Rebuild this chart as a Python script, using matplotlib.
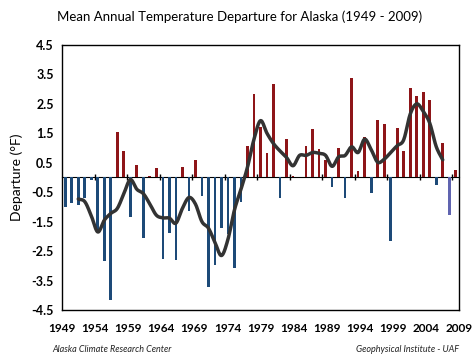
import numpy as np
import matplotlib
matplotlib.use("Agg")
import matplotlib.pyplot as plt

plt.rcParams['font.family'] = ['Lato', 'DejaVu Sans']

# ---- data ----
years = list(range(1949, 2010))
departures = [
    -1.00, -0.85, -0.92, -0.69, -0.07, -1.80, -2.85, -4.17, 1.55, 0.91,
    -1.33, 0.43, -2.07, 0.05, 0.33, -2.77, -1.88, -2.79, 0.36, -1.15,
    0.60, -0.63, -3.73, -2.98, -1.72, -1.91, -3.06, -0.82, 1.08, 2.84,
    1.71, 0.84, 3.19, -0.68, 1.32, 0.04, 0.02, 1.08, 1.66, 0.97,
    0.61, -0.31, 1.01, -0.71, 3.39, 0.23, 1.37, -0.54, 1.96, 1.83,
    -2.17, 1.67, 0.90, 3.05, 2.78, 2.91, 2.64, -0.24, 1.18, -1.26,
    0.26,
]
smooth_years = list(range(1951, 2008))
smooth_values = [
    -0.73, -0.82, -1.30, -1.85, -1.45, -1.22, -1.05, -0.55, -0.07, -0.40,
    -0.55, -0.90, -1.28, -1.37, -1.38, -1.55, -1.05, -0.68, -0.90, -1.50,
    -1.72, -2.20, -2.65, -2.10, -1.10, -0.40, 0.35, 1.30, 1.93, 1.50,
    1.15, 0.90, 0.68, 0.40, 0.75, 0.75, 0.85, 0.82, 0.75, 0.38,
    0.70, 0.75, 1.04, 0.85, 1.30, 0.95, 0.52, 0.62, 0.85, 1.08,
    1.28, 2.15, 2.50, 2.25, 1.85, 1.05, 0.60,
]
ytick_values = [4.5, 3.5, 2.5, 1.5, 0.5, -0.5, -1.5, -2.5, -3.5, -4.5]
xtick_labels = [str(y) for y in range(1949, 2010, 5)]

# ---- style ----
RED = '#8e1518'
BLUE = '#1d4a78'
PROV = '#6064b0'

fig = plt.figure(figsize=(4.72, 3.63), dpi=100)
ax = fig.add_axes([62/472, 1-310/363, (459-62)/472, (310-45)/363])

x = np.arange(len(years))
colors = []
for yr, v in zip(years, departures):
    if yr == 2008:
        colors.append(PROV)
    else:
        colors.append(RED if v >= 0 else BLUE)
ax.bar(x, departures, width=0.42, color=colors, zorder=2)

# smoothed curve (Catmull-Rom through read points)
sx = np.array([years.index(y) for y in smooth_years], dtype=float)
sy = np.array(smooth_values)
px = np.concatenate([[2*sx[0]-sx[1]], sx, [2*sx[-1]-sx[-2]]])
py = np.concatenate([[2*sy[0]-sy[1]], sy, [2*sy[-1]-sy[-2]]])
cx, cy = [], []
t = np.linspace(0, 1, 12, endpoint=False)
for i in range(1, len(px)-2):
    p0x, p1x, p2x, p3x = px[i-1:i+3]
    p0y, p1y, p2y, p3y = py[i-1:i+3]
    for tt in t:
        t2, t3 = tt*tt, tt*tt*tt
        cx.append(0.5*((2*p1x) + (-p0x+p2x)*tt + (2*p0x-5*p1x+4*p2x-p3x)*t2 + (-p0x+3*p1x-3*p2x+p3x)*t3))
        cy.append(0.5*((2*p1y) + (-p0y+p2y)*tt + (2*p0y-5*p1y+4*p2y-p3y)*t2 + (-p0y+3*p1y-3*p2y+p3y)*t3))
cx.append(sx[-1]); cy.append(sy[-1])
ax.plot(cx, cy, color='#333333', lw=2.5, solid_capstyle='round', zorder=3)

ax.set_xlim(-0.5, len(years)-0.5)
ax.set_ylim(-4.5, 4.5)
ax.set_yticks(ytick_values)
ax.set_yticklabels([f'{v:.1f}' for v in ytick_values])
ax.tick_params(axis='y', length=0, pad=6, labelsize=9)
for lab in ax.get_yticklabels():
    lab.set_fontweight('bold')

ax.set_xticks(np.linspace(-0.5, len(years)-0.5, len(xtick_labels)))
ax.set_xticklabels(xtick_labels, fontsize=8.5, fontweight='bold')
ax.tick_params(axis='x', length=0, pad=9)

for s in ax.spines.values():
    s.set_color('black')
    s.set_linewidth(1.0)

# zero axis with tick marks between category groups
sec = ax.secondary_xaxis(0.5)
sec.set_xticks(np.arange(4.5, len(years)-1, 5))
sec.set_xticklabels([])
sec.tick_params(axis='x', direction='inout', length=5, width=1, color='black')
sec.spines['bottom'].set_linewidth(1.0)

ax.set_ylabel('Departure (°F)', fontsize=10, labelpad=6)

fig.text(240/472, 1-17/363, 'Mean Annual Temperature Departure for Alaska (1949 - 2009)',
         ha='center', va='center', fontsize=9.5)
fig.text(52/472, 1-350/363, 'Alaska Climate Research Center', ha='left', va='center',
         fontsize=6.5, style='italic', color='#222222')
fig.text(459/472, 1-350/363, 'Geophysical Institute - UAF', ha='right', va='center',
         fontsize=6.5, style='italic', color='#222222')

fig.savefig('out.png', dpi=100)
